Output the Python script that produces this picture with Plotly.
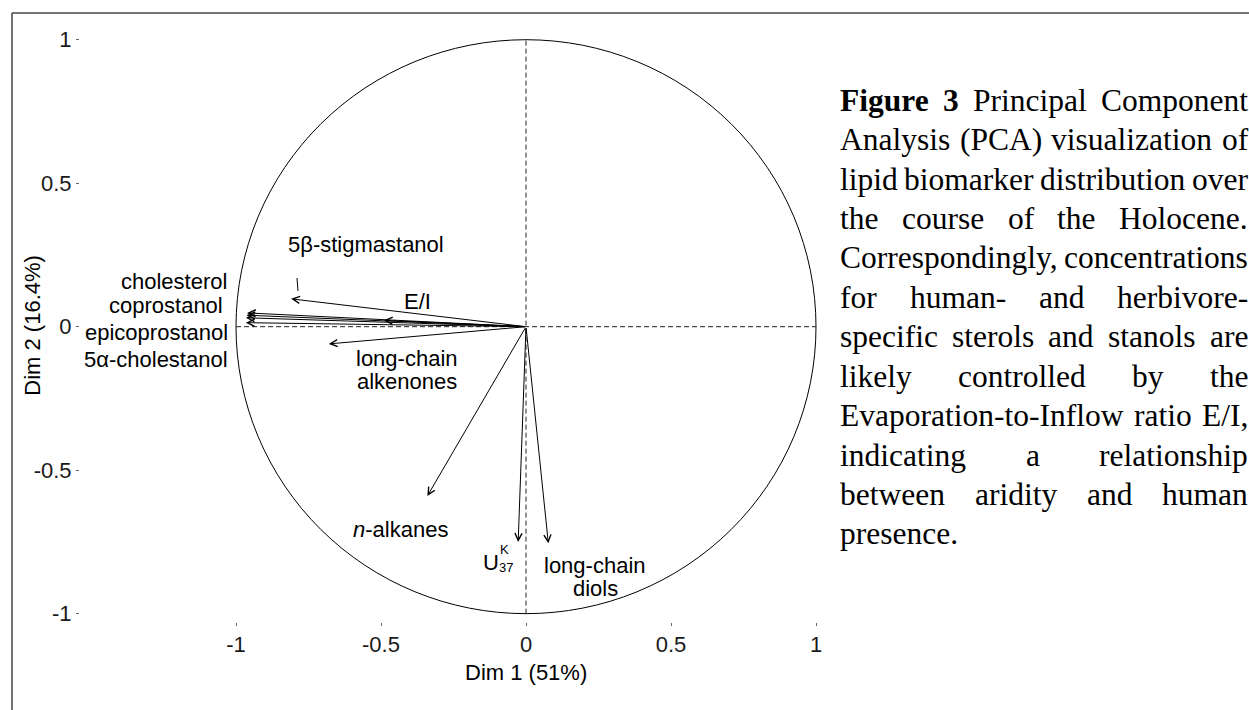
import plotly.graph_objects as go

# ---------------- data (PCA variable loadings) ----------------
variables = ["cholesterol", "coprostanol", "epicoprostanol", "5α-cholestanol",
             "5β-stigmastanol", "E/I", "long-chain alkenones", "n-alkanes",
             "U37K", "long-chain diols"]
dim1 = [-0.962, -0.964, -0.966, -0.966, -0.81, -0.49, -0.68, -0.34, -0.027, 0.077]
dim2 = [0.048, 0.040, 0.031, 0.014, 0.097, 0.022, -0.06, -0.59, -0.75, -0.755]

x_ticks = [-1, -0.5, 0, 0.5, 1]
x_ticklabels = ["-1", "-0.5", "0", "0.5", "1"]
y_ticks = [-1, -0.5, 0, 0.5, 1]
y_ticklabels = ["-1", "-0.5", "0", "0.5", "1"]
x_title = "Dim 1 (51%)"
y_title = "Dim 2 (16.4%)"

caption_lines = [
    "Figure 3 Principal Component",
    "Analysis (PCA) visualization of",
    "lipid biomarker distribution over",
    "the course of the Holocene.",
    "Correspondingly, concentrations",
    "for human- and herbivore-",
    "specific sterols and stanols are",
    "likely controlled by the",
    "Evaporation-to-Inflow ratio E/I,",
    "indicating a relationship",
    "between aridity and human",
    "presence.",
]
bold_words = 2  # "Figure 3"

# ---------------- geometry (pixels) ----------------
W, H = 1249, 710
X0_PX, UNIT_X = 526, 290
Y0_PX, UNIT_Y = 329, 289
DOM_L, DOM_R = 80, 1249
DOM_T, DOM_B = 25, 626

xmin = (DOM_L - X0_PX) / UNIT_X
xmax = (DOM_R - X0_PX) / UNIT_X
ymax = (Y0_PX - DOM_T) / UNIT_Y
ymin = (Y0_PX - DOM_B) / UNIT_Y


def px2x(px):
    return (px - X0_PX) / UNIT_X


def py2y(py):
    return (Y0_PX - py) / UNIT_Y


SANS = "Liberation Sans, Arial, sans-serif"
SERIF = "Liberation Serif, Times New Roman, serif"
LBL = 22

fig = go.Figure()
# invisible trace anchoring the axes to the loadings
fig.add_trace(go.Scatter(x=dim1, y=dim2, mode="markers", text=variables,
                         marker=dict(size=1, opacity=0), hoverinfo="text"))

shapes = []
# correlation circle
shapes.append(dict(type="circle", xref="x", yref="y", x0=-1, x1=1, y0=-1, y1=1,
                   line=dict(color="black", width=1)))
# dashed axes lines
shapes.append(dict(type="line", xref="x", yref="y", x0=-1, x1=1, y0=0, y1=0,
                   line=dict(color="#222", width=1, dash="5px,3px")))
shapes.append(dict(type="line", xref="x", yref="y", x0=0, x1=0, y0=-1, y1=1,
                   line=dict(color="#222", width=1, dash="5px,3px")))
# leader line for 5β-stigmastanol label
shapes.append(dict(type="line", xref="x", yref="y", x0=px2x(297), x1=px2x(298),
                   y0=py2y(280), y1=py2y(293), line=dict(color="black", width=1)))
# figure frame (left and top edges)
shapes.append(dict(type="line", xref="paper", yref="paper", x0=12 / W, x1=12 / W,
                   y0=1 - 13 / H, y1=-0.05, line=dict(color="#444", width=1.5)))
shapes.append(dict(type="line", xref="paper", yref="paper", x0=12 / W, x1=1.05,
                   y0=1 - 13 / H, y1=1 - 13 / H, line=dict(color="#444", width=1.5)))

annotations = []
# arrows from origin to loadings
for vx, vy in zip(dim1, dim2):
    annotations.append(dict(x=vx, y=vy, ax=0, ay=0, xref="x", yref="y", axref="x", ayref="y",
                            text="", showarrow=True, arrowhead=5, arrowsize=1.4,
                            arrowwidth=1, arrowcolor="black", standoff=0, startstandoff=0))

# variable labels (pixel positions)
label_pos = [
    ("cholesterol", 228, 283, "right"),
    ("coprostanol", 224, 308, "right"),
    ("epicoprostanol", 229, 335, "right"),
    ("5α-cholestanol", 229, 362, "right"),
    ("5β-stigmastanol", 366, 246, "center"),
    ("E/I", 417, 304, "center"),
    ("long-chain", 407, 361, "center"),
    ("alkenones", 407, 384, "center"),
    ("<i>n</i>-alkanes", 400, 533, "center"),
    ("long-chain", 595, 570, "center"),
    ("diols", 595, 593, "center"),
]
for txt, px, py, anc in label_pos:
    annotations.append(dict(x=px2x(px), y=py2y(py), xref="x", yref="y", text=txt,
                            showarrow=False, xanchor=anc, yanchor="middle", borderpad=0,
                            font=dict(family=SANS, size=LBL, color="black")))
# U37K with stacked super/subscript
annotations.append(dict(x=px2x(491), y=py2y(566), xref="x", yref="y", text="U", showarrow=False,
                        xanchor="center", yanchor="middle", borderpad=0,
                        font=dict(family=SANS, size=LBL, color="black")))
annotations.append(dict(x=px2x(499), y=py2y(553), xref="x", yref="y", text="K", showarrow=False,
                        xanchor="left", yanchor="middle", borderpad=0,
                        font=dict(family=SANS, size=13, color="black")))
annotations.append(dict(x=px2x(498), y=py2y(572), xref="x", yref="y", text="37", showarrow=False,
                        xanchor="left", yanchor="middle", borderpad=0,
                        font=dict(family=SANS, size=13, color="black")))

# axis titles
annotations.append(dict(x=X0_PX / W, y=1 - 677 / H, xref="paper", yref="paper", text=x_title,
                        showarrow=False, xanchor="center", yanchor="middle",
                        font=dict(family=SANS, size=LBL, color="black")))
annotations.append(dict(x=33 / W, y=1 - 328 / H, xref="paper", yref="paper", text=y_title,
                        showarrow=False, xanchor="center", yanchor="middle", textangle=-90,
                        font=dict(family=SANS, size=LBL, color="black")))

# ---------------- justified caption ----------------
TIMES = {' ': 250, '(': 333, ')': 333, ',': 250, '-': 333, '.': 250, '/': 278,
         'A': 722, 'B': 667, 'C': 667, 'D': 722, 'E': 611, 'F': 556, 'G': 722, 'H': 722,
         'I': 333, 'J': 389, 'K': 722, 'L': 611, 'M': 889, 'N': 722, 'O': 722, 'P': 556,
         'Q': 722, 'R': 667, 'S': 556, 'T': 611, 'U': 722, 'V': 722, 'W': 944,
         'a': 444, 'b': 500, 'c': 444, 'd': 500, 'e': 444, 'f': 333, 'g': 500, 'h': 500,
         'i': 278, 'j': 278, 'k': 500, 'l': 278, 'm': 778, 'n': 500, 'o': 500, 'p': 500,
         'q': 500, 'r': 333, 's': 389, 't': 278, 'u': 500, 'v': 500, 'w': 722, 'x': 500,
         'y': 500, 'z': 444}
TIMES_BOLD = {'F': 611, 'i': 278, 'g': 500, 'u': 556, 'r': 444, 'e': 444, '3': 500}
for d in "0123456789":
    TIMES[d] = 500
CAP_SIZE = 31.5
CAP_L, CAP_R = 839, 1247
CAP_Y0, CAP_DY = 101, 39.7


def wwidth(word, bold):
    table = TIMES_BOLD if bold else TIMES
    return sum(table.get(c, 500) for c in word) / 1000 * CAP_SIZE


word_index = 0
for li, line in enumerate(caption_lines):
    words = line.split(" ")
    flags = []
    for w in words:
        flags.append(word_index < bold_words)
        word_index += 1
    widths = [wwidth(w, b) for w, b in zip(words, flags)]
    last = li == len(caption_lines) - 1
    if last or len(words) == 1:
        gap = TIMES[' '] / 1000 * CAP_SIZE
    else:
        gap = (CAP_R - CAP_L - sum(widths)) / (len(words) - 1)
    xpos = CAP_L
    yc = CAP_Y0 + CAP_DY * li
    for w, b, wd in zip(words, flags, widths):
        annotations.append(dict(x=xpos / W, y=1 - yc / H, xref="paper", yref="paper",
                                text=f"<b>{w}</b>" if b else w, showarrow=False,
                                xanchor="left", yanchor="middle", borderpad=0,
                                font=dict(family=SERIF, size=CAP_SIZE, color="black")))
        xpos += wd + gap

axis_common = dict(showgrid=False, zeroline=False, showline=False, ticks="outside",
                   ticklen=3, tickcolor="#666", tickwidth=1,
                   tickfont=dict(family=SANS, size=LBL, color="#1a1a1a"))
fig.update_layout(
    width=W, height=H, margin=dict(l=0, r=0, t=0, b=0),
    paper_bgcolor="white", plot_bgcolor="white", showlegend=False,
    xaxis=dict(domain=[DOM_L / W, DOM_R / W], range=[xmin, xmax], tickmode="array",
               tickvals=x_ticks, ticktext=x_ticklabels, **axis_common),
    yaxis=dict(domain=[1 - DOM_B / H, 1 - DOM_T / H], range=[ymin, ymax], tickmode="array",
               tickvals=y_ticks, ticktext=y_ticklabels, **axis_common),
    shapes=shapes, annotations=annotations,
)

fig.write_html("out.html", config={"displayModeBar": False},
               post_script="document.body.style.margin='0';document.body.style.overflow='hidden';")
